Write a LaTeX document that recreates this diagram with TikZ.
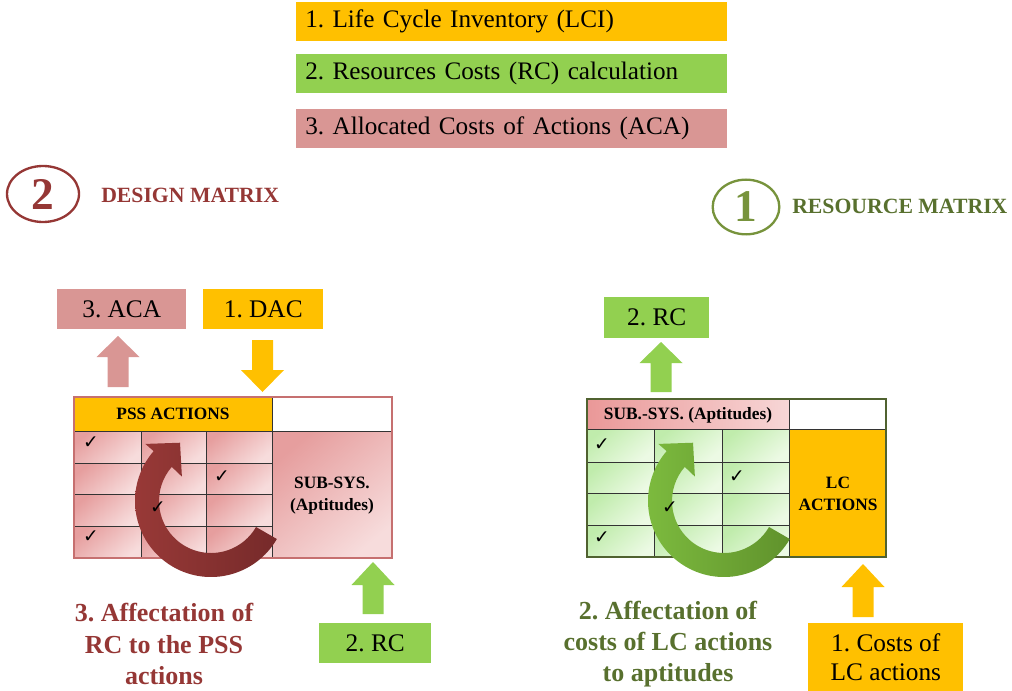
\documentclass[tikz,border=0pt]{standalone}
\usepackage{fontspec}
\setmainfont{Liberation Serif}
\newfontfamily\symf{DejaVu Sans}
\usetikzlibrary{shapes.geometric}
\frenchspacing
\definecolor{orng}{HTML}{FFC000}
\definecolor{grn}{HTML}{92D050}
\definecolor{pnk}{HTML}{D99694}
\definecolor{dred}{HTML}{953735}
\definecolor{olive}{HTML}{77933C}
\definecolor{olivetxt}{RGB}{88,112,46}
\definecolor{arrredA}{RGB}{152,57,55}
\definecolor{arrredB}{RGB}{118,42,42}
\definecolor{arrgrnA}{RGB}{124,186,62}
\definecolor{arrgrnB}{RGB}{96,146,44}
\definecolor{pkA}{RGB}{230,158,158}
\definecolor{pkB}{RGB}{247,220,220}
\definecolor{hpA}{RGB}{234,152,152}
\definecolor{hpB}{RGB}{247,214,214}
\definecolor{gnA}{RGB}{192,236,172}
\definecolor{gnB}{RGB}{236,250,228}
\definecolor{lborder}{RGB}{198,112,112}
\definecolor{rborder}{RGB}{80,98,48}
\newcommand\blockarr[5]{%
  \fill[#1] (#2-21.5,#4) -- (#2,#3) -- (#2+21.5,#4) -- (#2+10.5,#4) -- (#2+10.5,#5)
    -- (#2-10.5,#5) -- (#2-10.5,#4) -- cycle;}
\newcommand\curvarr[3]{%
  \shade[left color=#1, right color=#2] ([shift={(30:76)}]#3) arc[start angle=30,end angle=221,radius=76]
    -- ([shift={(221:87)}]#3) -- ([shift={(242:66)}]#3) -- ([shift={(220:38)}]#3)
    -- ([shift={(221:52)}]#3) arc[start angle=221,end angle=30,radius=52] -- cycle;}
\begin{document}
\begin{tikzpicture}[x=0.75pt,y=-0.75pt,
  legbox/.style={anchor=north west, inner xsep=6.75pt, inner ysep=0pt, text width=309.75pt,
    minimum height=29.25pt, align=left, font=\fontsize{18.9}{22}\selectfont},
  lblbox/.style={anchor=north west, inner sep=0pt, align=center, font=\fontsize{19}{21.75}\selectfont},
  tbltxt/.style={font=\fontsize{13}{16.5}\selectfont\bfseries, align=center, inner sep=0pt},
  chk/.style={font=\symf\fontsize{14}{14}\selectfont, inner sep=0pt},
  ttl/.style={anchor=west, inner sep=0pt, font=\fontsize{16.3}{16}\selectfont\bfseries},
  numell/.style={ellipse, draw, line width=1.75pt, inner sep=0pt, font=\fontsize{34}{34}\selectfont\bfseries},
  afft/.style={align=center, inner sep=0pt, font=\fontsize{19.5}{23.5}\selectfont\bfseries},
  cellpk/.style={top color=pkA, bottom color=pkB, shading angle=40},
  cellgn/.style={top color=gnA, bottom color=gnB, shading angle=40},
  gridln/.style={draw=black!80, line width=0.75pt}
]
\useasboundingbox (0,0) rectangle (1012,691);

% legend
\node[legbox, fill=orng] (lci) at (296,1.5) {1. Life Cycle Inventory (LCI)};
\node[legbox, fill=grn] (rcc) at (296,54) {2. Resources Costs (RC) calculation};
\node[legbox, fill=pnk] (acaleg) at (296,108.5) {3. Allocated Costs of Actions (ACA)};

% titles
\node[numell, draw=dred, text=dred, minimum width=54pt, minimum height=42pt] (n2) at (43,194) {2};
\node[ttl, text=dred] (dm) at (101,195.5) {DESIGN MATRIX};
\node[numell, draw=olive, text=olive, minimum width=50pt, minimum height=41pt] (n1) at (746,207) {1};
\node[ttl, text=olivetxt] (rm) at (792,206) {RESOURCE MATRIX};

% ---------- left (design) matrix
\node[lblbox, fill=pnk, minimum width=96.75pt, minimum height=30pt] (aca) at (57,289) {3. ACA};
\node[lblbox, fill=orng, minimum width=90pt, minimum height=30pt] (dac) at (203,289) {1. DAC};
\blockarr{pnk}{118}{336}{357}{387}
\blockarr{orng}{262.5}{392}{370}{340}

\foreach \xa/\xb in {74/141,141/206,206/272}
  \foreach \ya/\yb in {431/463,463/494,494/526,526/558}
    \shade[cellpk] (\xa,\ya) rectangle (\xb,\yb);
\shade[cellpk] (272,431) rectangle (392,558);
\fill[orng] (74,397) rectangle (272,431);
\fill[white] (272,397) rectangle (392,431);
\draw[gridln] (74,431) -- (392,431) (272,397) -- (272,558)
  (141,431) -- (141,558) (206,431) -- (206,558)
  (74,463) -- (272,463) (74,494) -- (272,494) (74,526) -- (272,526);
\draw[lborder, line width=1.6pt] (74,397) rectangle (392,558);
\node[tbltxt] (pss) at (173,414) {PSS ACTIONS};
\node[tbltxt] (subsys) at (332,496) {SUB-SYS.\\(Aptitudes)};

\coordinate (cL) at (211,501);
\curvarr{arrredA}{arrredB}{cL}
\node[chk] (k1) at (91,443) {✓};
\node[chk] (k2) at (222,477) {✓};
\node[chk] (k3) at (158,508) {✓};
\node[chk] (k4) at (91,537) {✓};

\blockarr{grn}{373}{562}{585}{614}
\node[lblbox, fill=grn, minimum width=84pt, minimum height=30pt] (rcb) at (319,623) {2. RC};
\node[afft, text=dred] (aff3) at (164,644) {3. Affectation of\\RC to the PSS\\actions};

% ---------- right (resource) matrix
\node[lblbox, fill=grn, minimum width=78.75pt, minimum height=30.75pt] (rct) at (604,297) {2. RC};
\blockarr{grn}{661}{342}{363}{392}

\foreach \xa/\xb in {587/654,654/722,722/789}
  \foreach \ya/\yb in {429/462,462/493,493/525,525/557}
    \shade[cellgn] (\xa,\ya) rectangle (\xb,\yb);
\shade[left color=hpA, right color=hpB] (587,399) rectangle (789,429);
\fill[white] (789,399) rectangle (886,429);
\fill[orng] (789,429) rectangle (886,557);
\draw[gridln] (587,429) -- (886,429) (789,399) -- (789,557)
  (654,429) -- (654,557) (722,429) -- (722,557)
  (587,462) -- (789,462) (587,493) -- (789,493) (587,525) -- (789,525);
\draw[rborder, line width=1.8pt] (587,399) rectangle (886,557);
\node[tbltxt] (subsys2) at (688,415) {SUB.-SYS. (Aptitudes)};
\node[tbltxt] (lcact) at (838,494) {LC\\ACTIONS};

\coordinate (cR) at (724,501);
\curvarr{arrgrnA}{arrgrnB}{cR}
\node[chk] (m1) at (602,445) {✓};
\node[chk] (m2) at (737,477) {✓};
\node[chk] (m3) at (670,508) {✓};
\node[chk] (m4) at (602,538) {✓};

\blockarr{orng}{863}{564}{587}{617}
\node[lblbox, fill=orng, minimum width=116.25pt, minimum height=51pt] (lcc) at (808,623) {1. Costs of\\LC actions};
\node[afft, text=olivetxt] (aff2) at (668,644) {2. Affectation of\\costs of LC actions\\to aptitudes};
\end{tikzpicture}
\end{document}
